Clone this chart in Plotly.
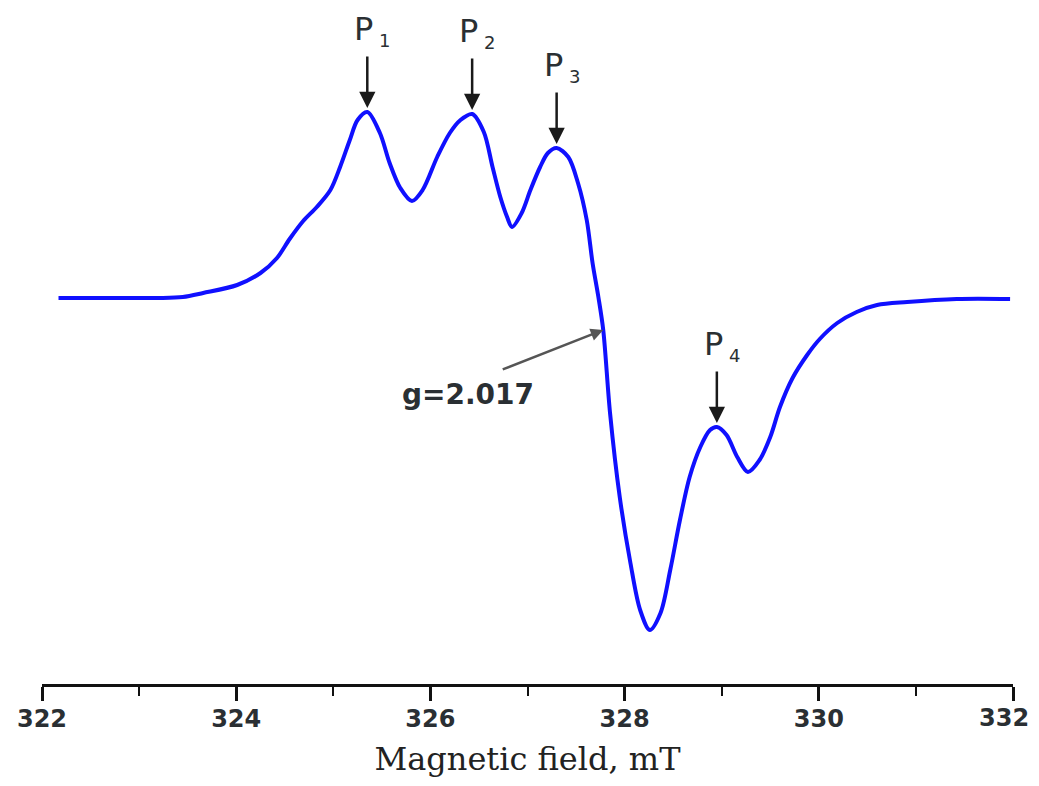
import numpy as np
import plotly.graph_objects as go

# EPR spectrum (first derivative), magnetic field in mT vs signal (a.u.)
field_mT = [322.17, 322.80, 323.20, 323.45, 323.66, 324.01, 324.25, 324.42, 324.55, 324.69,
            324.83, 324.97, 325.07, 325.17, 325.25, 325.35, 325.48, 325.58, 325.69, 325.81,
            325.92, 326.07, 326.20, 326.31, 326.43, 326.55, 326.64, 326.72, 326.79, 326.84,
            326.94, 327.03, 327.13, 327.21, 327.30, 327.42, 327.52, 327.61, 327.67, 327.73,
            327.78, 327.85, 327.95, 328.06, 328.16, 328.26, 328.37, 328.47, 328.57, 328.67,
            328.78, 328.88, 328.95, 329.05, 329.16, 329.27, 329.39, 329.50, 329.60, 329.73,
            329.88, 330.01, 330.19, 330.39, 330.60, 330.91, 331.42, 331.97]
signal_au = [0, 0, 0, 1, 5, 13, 25, 40, 59, 77,
             91, 108, 131, 158, 178, 186, 165, 135, 110, 97,
             108, 141, 165, 178, 184, 166, 131, 101, 81, 71,
             85, 108, 131, 145, 150, 141, 115, 78, 35, 1,
             -32, -115, -199, -265, -312, -332, -315, -272, -222, -179,
             -149, -132, -129, -137, -159, -174, -162, -139, -109, -80,
             -57, -41, -25, -14, -7, -4, -1, -1]

peak_names = ["1", "2", "3", "4"]
peak_fields = [325.35, 326.43, 327.30, 328.95]

g_label = "g=2.017"
g_field = 327.78

x_ticks = [322, 324, 326, 328, 330, 332]
x_title = "Magnetic field, mT"

tick_font = dict(family="DejaVu Sans", size=24, color="#2a2f33", weight="bold")

fig = go.Figure()
fig.add_trace(go.Scatter(
    x=field_mT, y=signal_au, mode="lines",
    line=dict(color="#1010ff", width=4, shape="spline", smoothing=0.9),
    showlegend=False, hoverinfo="skip",
))

for name, pf in zip(peak_names, peak_fields):
    py = float(np.interp(pf, field_mT, signal_au))
    fig.add_annotation(x=pf, y=py, xref="x", yref="y", text="",
                       showarrow=True, ax=0, ay=-57, standoff=4,
                       arrowhead=2, arrowsize=1.3, arrowwidth=2.5, arrowcolor="#1a1a1a")
    fig.add_annotation(x=pf, y=py, xref="x", yref="y",
                       text="P<sub><span style='font-size:18px'> " + name + "</span></sub>",
                       showarrow=False, xanchor="left", yanchor="middle",
                       xshift=-15, yshift=82,
                       font=dict(family="DejaVu Sans", size=32, color="#2a2f33"))

gy = float(np.interp(g_field, field_mT, signal_au))
fig.add_annotation(x=g_field, y=gy, xref="x", yref="y", text="",
                   showarrow=True, ax=-102, ay=40, standoff=0,
                   arrowhead=2, arrowsize=1.0, arrowwidth=2.5, arrowcolor="#555555")
fig.add_annotation(x=g_field, y=gy, xref="x", yref="y", text=g_label,
                   showarrow=False, xanchor="center", yanchor="middle",
                   xshift=-135, yshift=-64,
                   font=dict(family="DejaVu Sans", size=28, color="#2a2f33", weight="bold"))

# last tick label drawn as an annotation, nudged inward so it is not clipped at the page edge
tick_text = [str(t) for t in x_ticks[:-1]] + [""]
fig.add_annotation(x=x_ticks[-1], y=-0.0512, xref="x", yref="paper", text=str(x_ticks[-1]),
                   showarrow=False, xanchor="right", yanchor="middle", xshift=18,
                   font=tick_font)

# page body adds an 8px margin, so the figure is offset to compensate
fig.update_layout(
    width=1039, height=770,
    margin=dict(l=34, r=34, t=12, b=94),
    paper_bgcolor="white", plot_bgcolor="white",
    xaxis=dict(
        range=[322, 332], tickvals=x_ticks, ticktext=tick_text,
        automargin=False,
        showline=True, linewidth=3, linecolor="#111111",
        ticks="outside", ticklen=14, tickwidth=2.5, tickcolor="#111111",
        minor=dict(dtick=1, tick0=322, ticks="outside", ticklen=9, tickwidth=2, tickcolor="#111111"),
        showgrid=False, zeroline=False,
        tickfont=tick_font,
        ticklabelstandoff=-3,
        title=dict(text=x_title, standoff=29,
                   font=dict(family="DejaVu Serif", size=32, color="#222222")),
    ),
    yaxis=dict(range=[-386, 278], visible=False, showgrid=False, zeroline=False,
               automargin=False),
)

fig.write_html("out.html")
